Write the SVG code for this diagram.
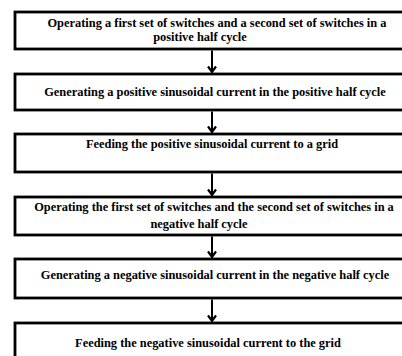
<svg xmlns="http://www.w3.org/2000/svg" width="402" height="356" viewBox="0 0 402 356">
<style>
.box{fill:#fff;stroke:#000;stroke-width:2.8}
.t{font-family:"Liberation Serif","Times New Roman",serif;font-weight:bold;font-size:12.4px;fill:#000;text-anchor:middle}
.c{stroke:#000;stroke-width:2;fill:none}
</style>
<defs>
<marker id="ah" markerWidth="10" markerHeight="10" refX="8.5" refY="5" orient="auto" markerUnits="userSpaceOnUse" viewBox="0 0 10 10">
<path d="M2.5,1 L8,5 L2.5,9" fill="none" stroke="#000" stroke-width="2.2"/>
</marker>
</defs>
<rect width="402" height="356" fill="#fff"/>
<g id="n1">
<rect class="box" x="15" y="12" width="400" height="37"/>
<text class="t" x="217" y="27">Operating a first set of switches and a second set of switches in a</text>
<text class="t" x="200" y="41">positive half cycle</text>
</g>
<g id="n2">
<rect class="box" x="15" y="74" width="400" height="36"/>
<text class="t" x="215" y="96">Generating a positive sinusoidal current in the positive half cycle</text>
</g>
<g id="n3">
<rect class="box" x="15" y="134" width="400" height="38"/>
<text class="t" x="212" y="148">Feeding the positive sinusoidal current to a grid</text>
</g>
<g id="n4">
<rect class="box" x="15" y="197" width="400" height="38"/>
<text class="t" x="214" y="211">Operating the first set of switches and the second set of switches in a</text>
<text class="t" x="199" y="228">negative half cycle</text>
</g>
<g id="n5">
<rect class="box" x="15" y="259" width="400" height="39"/>
<text class="t" x="215" y="279">Generating a negative sinusoidal current in the negative half cycle</text>
</g>
<g id="n6">
<rect class="box" x="15" y="323" width="400" height="50"/>
<text class="t" x="208" y="347">Feeding the negative sinusoidal current to the grid</text>
</g>
<g id="connectors">
<line class="c" x1="212" y1="50.5" x2="212" y2="72.5" marker-end="url(#ah)"/>
<line class="c" x1="212" y1="111.5" x2="212" y2="132.5" marker-end="url(#ah)"/>
<line class="c" x1="212" y1="173.5" x2="212" y2="195.5" marker-end="url(#ah)"/>
<line class="c" x1="212" y1="236.5" x2="212" y2="257.5" marker-end="url(#ah)"/>
<line class="c" x1="212" y1="299.5" x2="212" y2="321.5" marker-end="url(#ah)"/>
</g>
</svg>
